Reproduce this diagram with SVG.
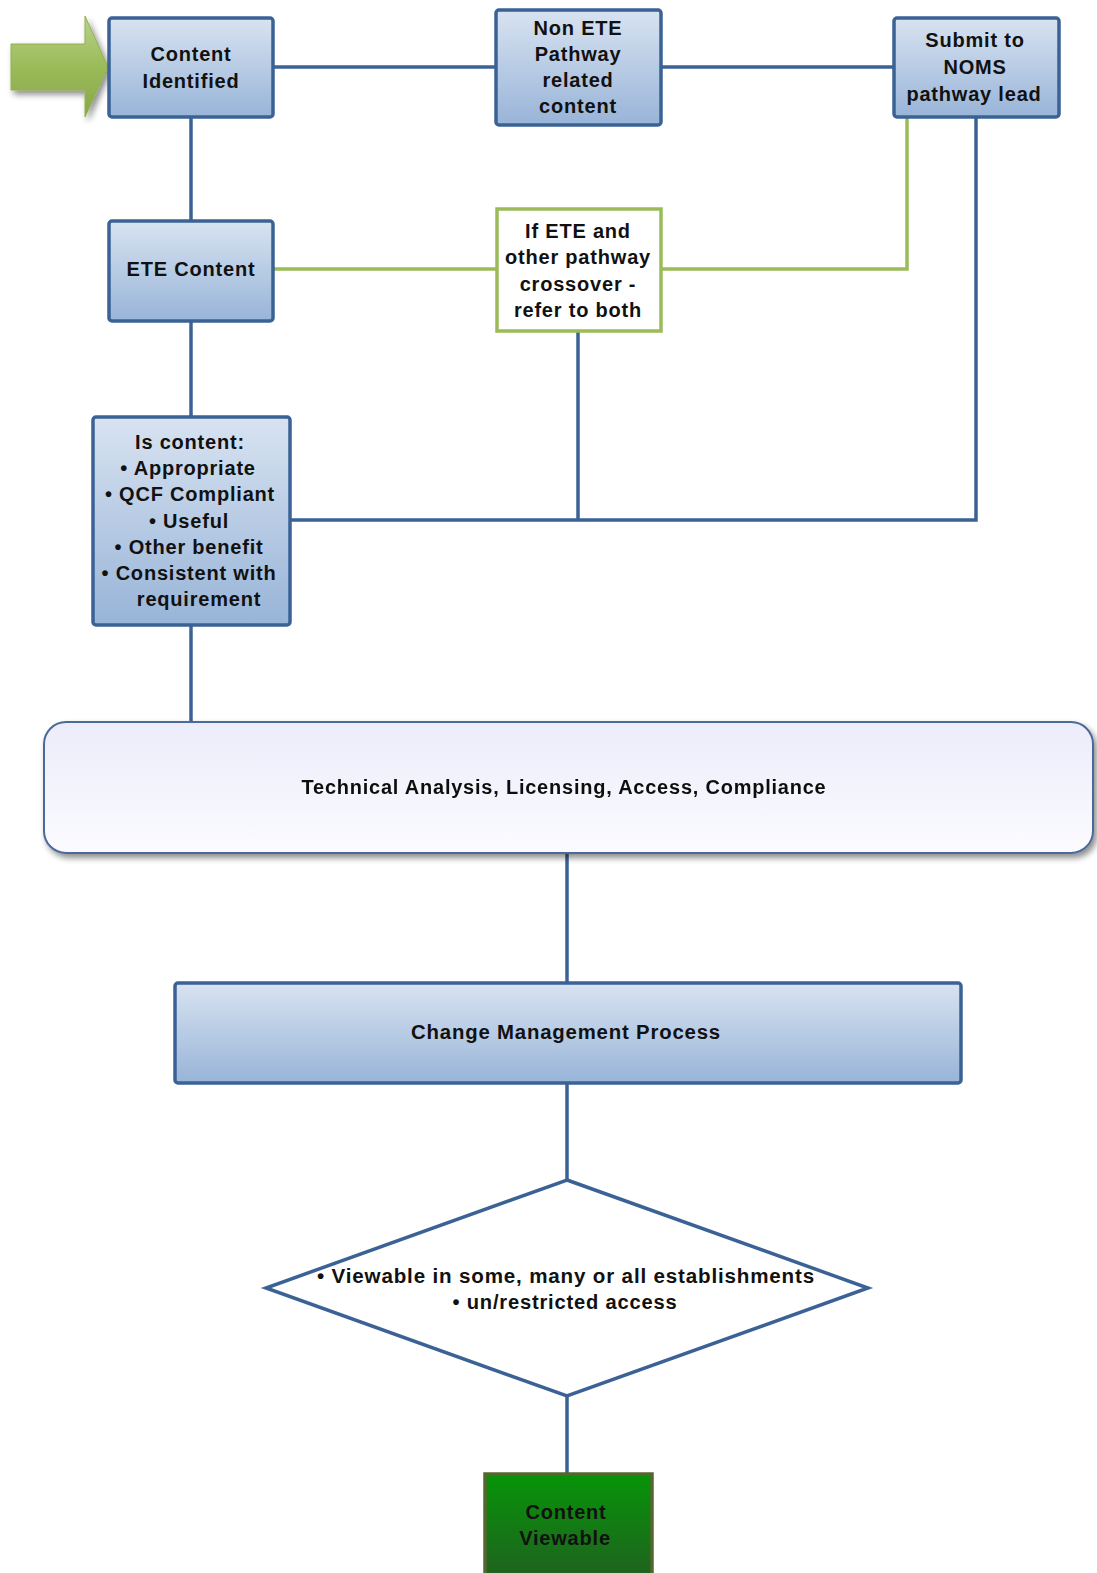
<svg xmlns="http://www.w3.org/2000/svg" width="1097" height="1573" viewBox="0 0 1097 1573">
<defs>
<linearGradient id="gBlue" x1="0" y1="0" x2="0" y2="1">
<stop offset="0" stop-color="#d8e3f1"/>
<stop offset="1" stop-color="#98b4d8"/>
</linearGradient>
<linearGradient id="gLav" x1="0" y1="0" x2="0" y2="1">
<stop offset="0" stop-color="#ececfb"/>
<stop offset="1" stop-color="#fbfbff"/>
</linearGradient>
<linearGradient id="gGreen" x1="0" y1="0" x2="0" y2="1">
<stop offset="0" stop-color="#079407"/>
<stop offset="1" stop-color="#215f21"/>
</linearGradient>
<linearGradient id="gArrow" x1="0" y1="0" x2="0" y2="1">
<stop offset="0" stop-color="#b9d28a"/>
<stop offset="0.5" stop-color="#9bbb59"/>
<stop offset="1" stop-color="#86a64a"/>
</linearGradient>
<filter id="sh" x="-10%" y="-10%" width="130%" height="140%">
<feGaussianBlur in="SourceAlpha" stdDeviation="3"/>
<feOffset dx="3" dy="4"/>
<feComponentTransfer><feFuncA type="linear" slope="0.45"/></feComponentTransfer>
<feMerge><feMergeNode/><feMergeNode in="SourceGraphic"/></feMerge>
</filter>
</defs>
<style>
.box{fill:url(#gBlue);stroke:#3b6295;stroke-width:3.5}
.cb{stroke:#3b6295;stroke-width:3.5;fill:none}
.cg{stroke:#9bbb59;stroke-width:3.5;fill:none}
text{font-family:"Liberation Sans",Arial,sans-serif;font-weight:bold;font-size:20px;fill:#111;text-anchor:middle;letter-spacing:0.8px}
</style>
<g id="connectors">
<line class="cb" x1="273" y1="67" x2="496" y2="67"/>
<line class="cb" x1="661" y1="67" x2="894" y2="67"/>
<line class="cb" x1="191" y1="117" x2="191" y2="221"/>
<line class="cb" x1="191" y1="321" x2="191" y2="417"/>
<polyline class="cg" points="273,269 497,269"/>
<polyline class="cg" points="661,269 907,269 907,117"/>
<line class="cb" x1="578" y1="331" x2="578" y2="520"/>
<polyline class="cb" points="290,520 976,520 976,117"/>
<line class="cb" x1="191" y1="625" x2="191" y2="722"/>
<line class="cb" x1="567" y1="853" x2="567" y2="983"/>
<line class="cb" x1="567" y1="1083" x2="567" y2="1180"/>
<line class="cb" x1="567" y1="1396" x2="567" y2="1474"/>
</g>
<g id="start-arrow" filter="url(#sh)">
<path d="M11,44 L85,44 L85,16 L108,67 L85,117 L85,90 L11,90 Z" fill="url(#gArrow)" stroke="#8fb050" stroke-width="1"/>
</g>
<g id="content-identified">
<rect class="box" x="109" y="18" width="164" height="99" rx="3"/>
<text x="191" y="61">Content</text>
<text x="191" y="88">Identified</text>
</g>
<g id="non-ete">
<rect class="box" x="496" y="10" width="165" height="115" rx="3"/>
<text x="578" y="35">Non ETE</text>
<text x="578" y="61">Pathway</text>
<text x="578" y="87">related</text>
<text x="578" y="113">content</text>
</g>
<g id="submit-noms">
<rect class="box" x="894" y="18" width="165" height="99" rx="3"/>
<text x="975" y="47">Submit to</text>
<text x="975" y="74">NOMS</text>
<text x="974" y="101">pathway lead</text>
</g>
<g id="ete-content">
<rect class="box" x="109" y="221" width="164" height="100" rx="3"/>
<text x="191" y="276">ETE Content</text>
</g>
<g id="crossover">
<rect x="497" y="209" width="164" height="122" fill="#ffffff" stroke="#9bbb59" stroke-width="3.5"/>
<text x="578" y="238">If ETE and</text>
<text x="578" y="264">other pathway</text>
<text x="578" y="291">crossover -</text>
<text x="578" y="317">refer to both</text>
</g>
<g id="is-content">
<rect class="box" x="93" y="417" width="197" height="208" rx="3"/>
<text x="190" y="449">Is content:</text>
<text x="188" y="475">• Appropriate</text>
<text x="190" y="501">• QCF Compliant</text>
<text x="189" y="528">• Useful</text>
<text x="189" y="554">• Other benefit</text>
<text x="189" y="580">• Consistent with</text>
<text x="199" y="606">requirement</text>
</g>
<g id="technical" filter="url(#sh)">
<rect x="44" y="722" width="1049" height="131" rx="22" fill="url(#gLav)" stroke="#4a6a9a" stroke-width="2"/>
<text x="564" y="794" textLength="525" lengthAdjust="spacingAndGlyphs" letter-spacing="0">Technical Analysis, Licensing, Access, Compliance</text>
</g>
<g id="change-mgmt">
<rect class="box" x="175" y="983" width="786" height="100" rx="3"/>
<text x="566" y="1039" textLength="310" lengthAdjust="spacingAndGlyphs" letter-spacing="0">Change Management Process</text>
</g>
<g id="viewable-decision">
<polygon points="567,1180 868,1288 567,1396 266,1288" fill="#ffffff" stroke="#3b6295" stroke-width="3.5"/>
<text x="566" y="1283" textLength="498" lengthAdjust="spacingAndGlyphs" letter-spacing="0">• Viewable in some, many or all establishments</text>
<text x="565" y="1309" textLength="225" lengthAdjust="spacingAndGlyphs" letter-spacing="0">• un/restricted access</text>
</g>
<g id="content-viewable">
<rect x="485" y="1474" width="167" height="110" fill="url(#gGreen)" stroke="#55662e" stroke-width="3.5"/>
<text x="566" y="1519">Content</text>
<text x="565" y="1545">Viewable</text>
</g>
</svg>
